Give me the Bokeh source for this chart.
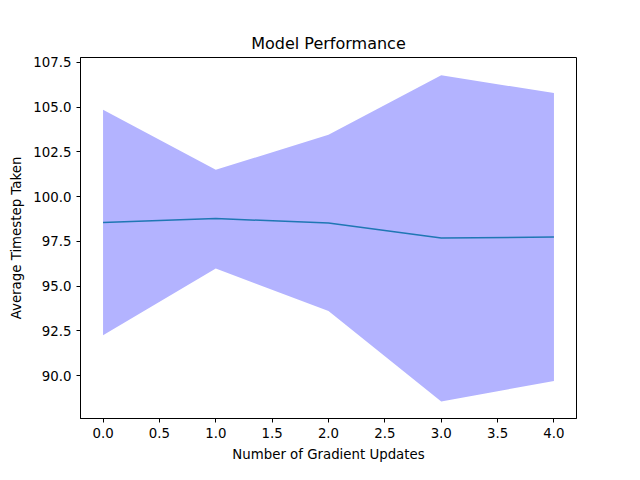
from bokeh.plotting import figure
from bokeh.models import ColumnDataSource, FixedTicker
from bokeh.embed import file_html
from bokeh.resources import INLINE

updates = [0, 1, 2, 3, 4]
mean_steps = [98.55, 98.77, 98.52, 97.68, 97.74]
upper = [104.85, 101.5, 103.45, 106.78, 105.78]
lower = [92.25, 95.98, 93.6, 88.55, 89.7]

src = ColumnDataSource(dict(x=updates, m=mean_steps, hi=upper, lo=lower))

p = figure(width=624, height=464, output_backend="svg", toolbar_location=None,
           x_range=(-0.2, 4.2), y_range=(87.6, 107.77),
           title="Model Performance",
           x_axis_label="Number of Gradient Updates",
           y_axis_label="Average Timestep Taken",
           min_border_left=80, min_border_right=48, min_border_top=57, min_border_bottom=37)
p.varea(x="x", y1="lo", y2="hi", source=src, fill_color="#b3b3ff", fill_alpha=1.0)
p.line(x="x", y="m", source=src, line_color="#1f77b4", line_width=1.5)

p.grid.visible = False
p.outline_line_color = "black"
p.title.align = "center"
p.title.text_font = "DejaVu Sans"
p.title.text_font_style = "normal"
p.title.text_font_size = "12pt"
p.title.text_color = "black"
p.xaxis.ticker = FixedTicker(ticks=[0, 0.5, 1, 1.5, 2, 2.5, 3, 3.5, 4])
p.yaxis.ticker = FixedTicker(ticks=[90, 92.5, 95, 97.5, 100, 102.5, 105, 107.5])
p.xaxis.major_label_overrides = {t: f"{t:.1f}" for t in [0, 0.5, 1, 1.5, 2, 2.5, 3, 3.5, 4]}
p.yaxis.major_label_overrides = {t: f"{t:.1f}" for t in [90, 92.5, 95, 97.5, 100, 102.5, 105, 107.5]}
for ax in p.xaxis + p.yaxis:
    ax.minor_tick_line_color = None
    ax.major_tick_out = 4
    ax.major_tick_in = 0
    ax.axis_line_color = "black"
    ax.major_tick_line_color = "black"
    ax.axis_label_text_color = "black"
    ax.major_label_text_color = "black"
    ax.axis_label_standoff = 6
    ax.axis_label_text_font = "DejaVu Sans"
    ax.axis_label_text_font_style = "normal"
    ax.axis_label_text_font_size = "10pt"
    ax.major_label_text_font = "DejaVu Sans"
    ax.major_label_text_font_size = "10pt"

open("out.html", "w").write(file_html(p, INLINE))
